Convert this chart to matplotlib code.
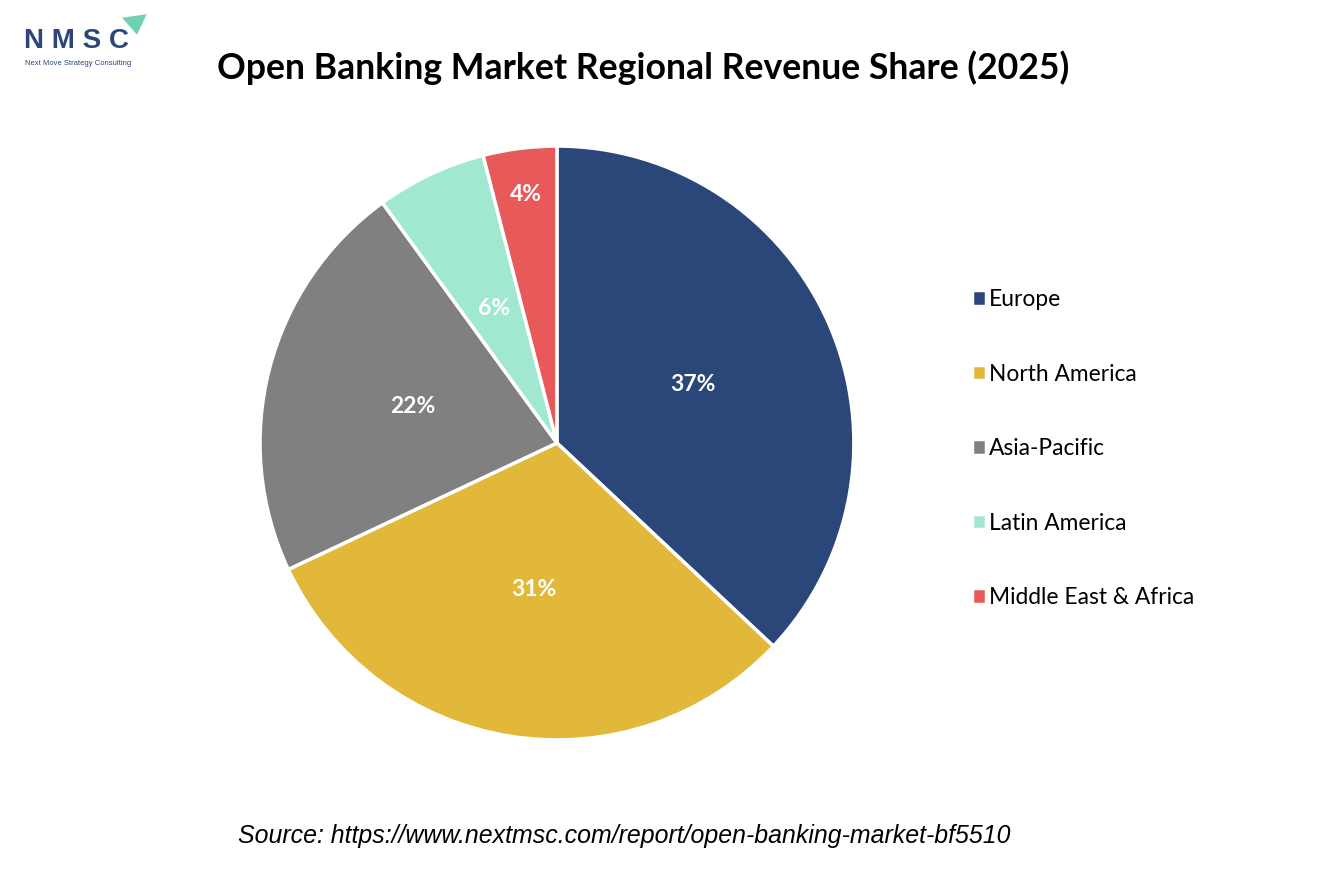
import matplotlib.pyplot as plt
from matplotlib.patches import Polygon

regions = ["Europe", "North America", "Asia-Pacific", "Latin America", "Middle East & Africa"]
shares = [37, 31, 22, 6, 4]
colors = ["#2B4679", "#E1B83A", "#808080", "#A0E8D0", "#E85A5A"]

plt.rcParams["font.family"] = ["Lato", "DejaVu Sans"]

fig = plt.figure(figsize=(13.34, 8.89), dpi=100)
ax = fig.add_axes([0.4175 - 0.2227, 0.5017 - 0.334, 0.4454, 0.668])

wedges, texts, autotexts = ax.pie(
    shares,
    colors=colors,
    startangle=90,
    counterclock=False,
    autopct="%d%%",
    pctdistance=0.5,
    wedgeprops=dict(edgecolor="white", linewidth=2.5),
    textprops=dict(color="white", fontsize=16.5, fontweight="bold"),
)
ax.set_xlim(-1, 1)
ax.set_ylim(-1, 1)
ax.set_aspect("equal")

# small slice label sits further out
x, y = autotexts[4].get_position()
autotexts[4].set_position((x * 1.69, y * 1.69))

fig.text(0.482, 0.924, "Open Banking Market Regional Revenue Share (2025)",
         ha="center", va="center", fontsize=25.7, fontweight="bold")

leg = fig.legend(wedges, regions, loc="upper left", bbox_to_anchor=(0.713, 0.698),
                 frameon=False, fontsize=16.4, handlelength=0.65, handleheight=0.65,
                 handletextpad=0.1, labelspacing=2.35)

fig.text(0.468, 0.06, "Source: https://www.nextmsc.com/report/open-banking-market-bf5510",
         ha="center", va="center", fontsize=17.9, style="italic",
         family="Liberation Sans")

# logo
fig.text(0.018, 0.954, "N M S C", ha="left", va="center", fontsize=20,
         fontweight="bold", color="#2B4679", family="Liberation Sans")
fig.text(0.019, 0.929, "Next Move Strategy Consulting", ha="left", va="center",
         fontsize=5.5, color="#2B4679", family="Liberation Sans")
fig.patches.append(Polygon([[0.0915, 0.980], [0.110, 0.984], [0.1027, 0.961]],
                           closed=True, transform=fig.transFigure,
                           facecolor="#6FD1B0", edgecolor="none"))

fig.savefig("out.png", dpi=100)
